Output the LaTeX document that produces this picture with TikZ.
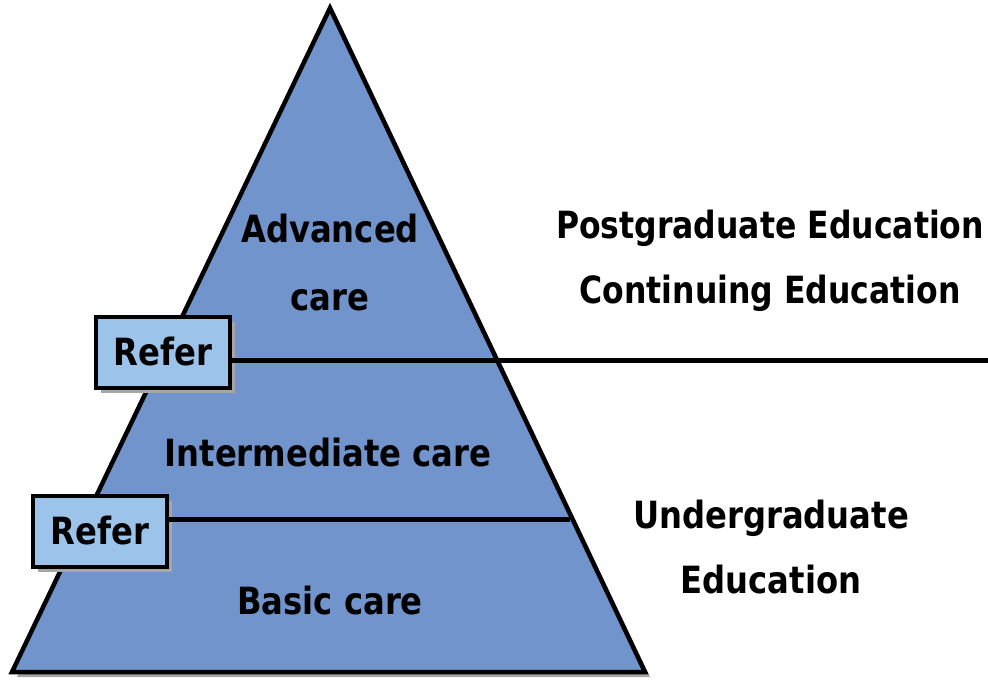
\documentclass[tikz,border=0pt]{standalone}
\usepackage{fontspec}
\setmainfont{DejaVu Sans}
\usetikzlibrary{shadows}
\definecolor{pyr}{HTML}{7094CB}
\definecolor{refer}{HTML}{9CC4EA}
\tikzset{
  lbl/.style={font=\fontsize{37.5}{40}\selectfont\bfseries, text=black, inner sep=0pt, align=center},
  referbox/.style={draw=black, line width=4pt, fill=refer, minimum width=134pt, minimum height=71pt, inner sep=0pt,
     drop shadow={shadow xshift=5pt, shadow yshift=-5pt, fill=black!35, opacity=1}},
  divider/.style={line width=5pt, black}
}
\newcommand\sq[1]{\scalebox{0.86}[1]{#1}}
\newcommand\sqn[1]{\scalebox{0.84}[1]{#1}}
\begin{document}
\begin{tikzpicture}[x=1pt,y=-1pt]
\useasboundingbox (0,0) rectangle (988,680);
% shadow of pyramid
\fill[black!35] (335,13) -- (650,677) -- (17,677) -- cycle;
\draw[line width=4.5pt, fill=pyr, line join=miter] (330,8) coordinate (apex) -- (645,672) coordinate (br) -- (12,672) coordinate (bl) -- cycle;
% levels
\coordinate (d1r) at (988,360);
\coordinate (d2r) at (570,519);
\node[referbox] (r1) at (163,352) {\fontsize{37.5}{40}\selectfont\bfseries\sq{Refer}};
\node[referbox] (r2) at (100,531) {\fontsize{37.5}{40}\selectfont\bfseries\sq{Refer}};
\draw[divider] (r1.east |- d1r) -- (d1r);
\draw[divider] (r2.east |- d2r) -- (d2r);
% labels
\node[lbl] (adv) at (330,229) {\sq{Advanced}};
\node[lbl] (advc) at (330,300) {\sq{care}};
\node[lbl] (inter) at (328,453) {\sq{Intermediate care}};
\node[lbl] (basic) at (330,601) {\sq{Basic care}};
\node[lbl] (pg) at (770,228) {\sqn{Postgraduate Education}};
\node[lbl] (ce) at (770,293) {\sqn{Continuing Education}};
\node[lbl] (ug) at (771,518) {\sq{Undergraduate}};
\node[lbl] (ue) at (771,580) {\sq{Education}};
\end{tikzpicture}
\end{document}
